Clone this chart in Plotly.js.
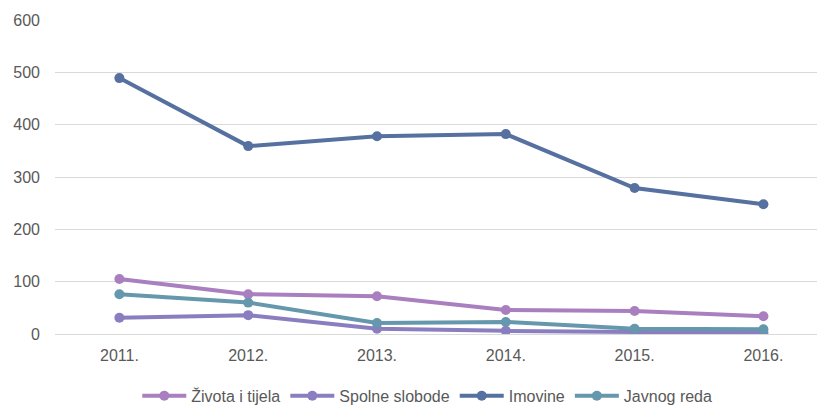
<!DOCTYPE html>
<html>
<head>
<meta charset="utf-8">
<script src="https://cdn.plot.ly/plotly-3.0.1.min.js"></script>
<style>html,body{margin:0;padding:0;background:#fff;}#chart{width:817px;height:406px;}</style>
</head>
<body>
<div id="chart"></div>
<script>
const years = ["2011.", "2012.", "2013.", "2014.", "2015.", "2016."];
const zivota = [105, 76, 72, 46, 44, 34];
const spolne = [31, 36, 10, 6, 4, 3];
const imovine = [489, 359, 378, 382, 279, 248];
const javnog = [76, 60, 21, 23, 10, 9];
const names = ["Života i tijela", "Spolne slobode", "Imovine", "Javnog reda"];
const colors = ["#a97fbf", "#8a7ec0", "#5670a0", "#6597ad"];
const series = [zivota, spolne, imovine, javnog];

const traces = series.map((s, i) => ({
  x: years, y: s, name: names[i], type: "scatter", mode: "lines+markers",
  line: {color: colors[i], width: 4},
  marker: {color: colors[i], size: 10}
}));

const layout = {
  width: 817, height: 406,
  margin: {l: 55, r: 0, t: 20, b: 72},
  paper_bgcolor: "#fff", plot_bgcolor: "#fff",
  font: {family: "Liberation Sans, Arial, sans-serif", size: 16, color: "#595959"},
  showlegend: true,
  legend: {orientation: "h", x: 0.523, xref: "container", xanchor: "center",
           y: 0.025, yref: "container", yanchor: "middle",
           font: {size: 16, color: "#595959"}, traceorder: "normal", itemgap: 40, itemwidth: 44},
  xaxis: {type: "category", range: [-0.5, 5.416], showgrid: false, zeroline: false,
          showline: false, ticks: "", ticklabelstandoff: 10, tickfont: {size: 16, color: "#595959"}},
  yaxis: {range: [0, 600], dtick: 100, showgrid: true, gridcolor: "#d9d9d9", gridwidth: 1,
          zeroline: true, zerolinecolor: "#d9d9d9", showline: false, ticks: "",
          ticklabelstandoff: 14, tickfont: {size: 16, color: "#595959"}}
};
Plotly.newPlot("chart", traces, layout, {displayModeBar: false, staticPlot: true});
</script>
</body>
</html>
